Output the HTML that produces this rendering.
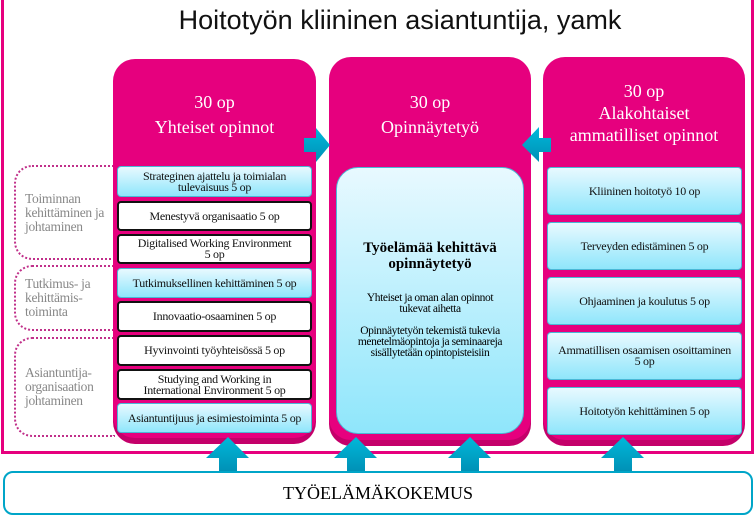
<!DOCTYPE html>
<html><head><meta charset="utf-8"><style>
*{margin:0;padding:0;box-sizing:border-box}
body{width:756px;height:516px;background:#fff;position:relative;overflow:hidden;font-family:"Liberation Serif",serif}
.a{position:absolute}
.frame{left:1px;top:0;width:753px;height:454px;border:3px solid #e6007e;border-top:none}
.title{left:150px;top:5px;width:500px;text-align:center;font:27px "Liberation Sans",sans-serif;color:#111}
.col{background:#e6007e;border-radius:22px;box-shadow:0 6px 0 #c4006a}
.hd{color:#fff;text-align:center;font-size:18px;line-height:25px}
.it{display:flex;align-items:center;justify-content:center;text-align:center;font-size:12px;line-height:11px;letter-spacing:-0.3px;border-radius:4px;color:#111}
.b{background:linear-gradient(#e8f9ff,#8fe6fb);border:1px solid #4bb8d6}
.w{background:#fff;border:2px solid #111}
.lab{border:2px dotted #c0308a;border-right:none;border-radius:18px 0 0 18px;color:#888;font-size:13.5px;line-height:14px;padding-left:9px;display:flex;align-items:center;letter-spacing:-0.3px}
</style></head><body>
<div class="a frame"></div>
<div class="a title">Hoitotyön kliininen asiantuntija, yamk</div>

<div class="a lab" style="left:14px;top:165px;width:101px;height:95px">Toiminnan kehittäminen ja johtaminen</div>
<div class="a lab" style="left:14px;top:265px;width:101px;height:66px">Tutkimus- ja kehittämis-toiminta</div>
<div class="a lab" style="left:14px;top:337px;width:101px;height:100px">Asiantuntija-organisaation johtaminen</div>

<div class="a col" style="left:113px;top:59px;width:203px;height:379px"></div>
<div class="a hd" style="left:113px;top:90px;width:203px">30 op<br>Yhteiset opinnot</div>
<div class="a it b" style="left:117px;top:166px;width:195px;height:31px">Strateginen ajattelu ja toimialan<br>tulevaisuus 5 op</div>
<div class="a it w" style="left:117px;top:201px;width:195px;height:30px">Menestyvä organisaatio 5 op</div>
<div class="a it w" style="left:117px;top:234px;width:195px;height:30px">Digitalised Working Environment<br>5 op</div>
<div class="a it b" style="left:117px;top:268px;width:195px;height:30px">Tutkimuksellinen kehittäminen 5 op</div>
<div class="a it w" style="left:117px;top:301px;width:195px;height:31px">Innovaatio-osaaminen 5 op</div>
<div class="a it w" style="left:117px;top:335px;width:195px;height:31px">Hyvinvointi työyhteisössä 5 op</div>
<div class="a it w" style="left:117px;top:369px;width:195px;height:31px">Studying and Working in<br>International Environment 5 op</div>
<div class="a it b" style="left:117px;top:403px;width:195px;height:30px">Asiantuntijuus ja esimiestoiminta 5 op</div>

<div class="a col" style="left:329px;top:57px;width:202px;height:383px"></div>
<div class="a hd" style="left:329px;top:90px;width:202px">30 op<br>Opinnäytetyö</div>
<div class="a b" style="left:336px;top:167px;width:188px;height:267px;border-radius:22px"></div>
<div class="a" style="left:336px;top:240px;width:188px;text-align:center;font-weight:bold;font-size:15px;line-height:16px">Työelämää kehittävä opinnäytetyö</div>
<div class="a" style="left:340px;top:293px;width:180px;text-align:center;font-size:11.5px;line-height:11px;letter-spacing:-0.4px">Yhteiset ja oman alan opinnot<br>tukevat aihetta<br><br>Opinnäytetyön tekemistä tukevia menetelmäopintoja ja seminaareja sisällytetään opintopisteisiin</div>

<div class="a col" style="left:543px;top:57px;width:202px;height:383px"></div>
<div class="a hd" style="left:543px;top:80px;width:202px;line-height:22px">30 op<br>Alakohtaiset<br>ammatilliset opinnot</div>
<div class="a it b" style="left:547px;top:167px;width:195px;height:48px">Kliininen hoitotyö 10 op</div>
<div class="a it b" style="left:547px;top:222px;width:195px;height:48px">Terveyden edistäminen 5 op</div>
<div class="a it b" style="left:547px;top:277px;width:195px;height:48px">Ohjaaminen ja koulutus 5 op</div>
<div class="a it b" style="left:547px;top:332px;width:195px;height:48px">Ammatillisen osaamisen osoittaminen<br>5 op</div>
<div class="a it b" style="left:547px;top:387px;width:195px;height:48px">Hoitotyön kehittäminen 5 op</div>

<svg class="a" style="left:0;top:0" width="756" height="516">
<defs><linearGradient id="g" x1="0" y1="0" x2="0" y2="1"><stop offset="0" stop-color="#00b8da"/><stop offset="1" stop-color="#0090b5"/></linearGradient></defs>
<polygon points="304,138 316,138 316,128 330,145 316,162 316,152 304,152" fill="url(#g)"/>
<polygon points="551,138 539,138 539,127 522,145 539,162 539,152 551,152" fill="url(#g)"/>
<g fill="url(#g)">
<polygon points="219,472 219,458 206,458 228,437 249,458 237,458 237,472"/>
<polygon points="347,472 347,458 334,458 356,437 377,458 365,458 365,472"/>
<polygon points="461,472 461,458 448,458 470,437 491,458 479,458 479,472"/>
<polygon points="614,472 614,458 601,458 623,437 644,458 632,458 632,472"/>
</g>
</svg>
<div class="a" style="left:3px;top:471px;width:750px;height:44px;border:2px solid #00a5c8;border-radius:10px;background:#fff;text-align:center;font-size:18px;line-height:40px">TYÖELÄMÄKOKEMUS</div>
</body></html>
